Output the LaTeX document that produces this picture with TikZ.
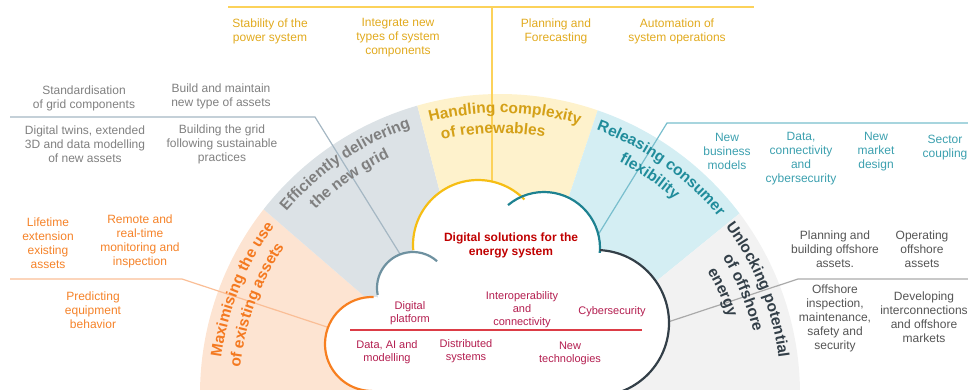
\documentclass[tikz,border=0pt]{standalone}
\usepackage{fontspec}
\setmainfont{Liberation Sans}
\usetikzlibrary{decorations.text,calc}
\definecolor{fOr}{RGB}{253,228,210}
\definecolor{fGr}{RGB}{220,226,230}
\definecolor{fYe}{RGB}{254,242,204}
\definecolor{fBl}{RGB}{212,238,243}
\definecolor{fLg}{RGB}{242,242,242}
\definecolor{hOr}{RGB}{244,121,32}
\definecolor{hGr}{RGB}{127,127,127}
\definecolor{hYe}{RGB}{212,160,23}
\definecolor{hBl}{RGB}{32,140,155}
\definecolor{hDk}{RGB}{51,63,72}
\definecolor{tOr}{RGB}{245,130,40}
\definecolor{tGr}{RGB}{128,128,128}
\definecolor{tYe}{RGB}{225,170,30}
\definecolor{tBl}{RGB}{60,160,175}
\definecolor{tDk}{RGB}{85,85,85}
\definecolor{lOr}{RGB}{250,190,150}
\definecolor{lGr}{RGB}{165,183,195}
\definecolor{lYe}{RGB}{252,210,90}
\definecolor{lBl}{RGB}{120,190,205}
\definecolor{lDk}{RGB}{170,170,170}
\definecolor{cOr}{RGB}{247,127,32}
\definecolor{cSl}{RGB}{110,145,160}
\definecolor{cYe}{RGB}{246,190,20}
\definecolor{cTe}{RGB}{30,130,145}
\definecolor{cDk}{RGB}{51,63,72}
\definecolor{inTx}{RGB}{180,30,80}
\definecolor{titTx}{RGB}{192,0,0}
\definecolor{redLn}{RGB}{220,60,70}
\newcommand\headf{\fontsize{15.5}{18}\selectfont\bfseries}
\newcommand\ArcLbl[4]{%
  \pgfmathsetmacro\aStart{#1+45}\pgfmathsetmacro\aEnd{#1-45}%
  \path[decorate,decoration={text along path,text align=center,text={|\headf\color{#3}|#4}}]
    ([shift={(C)}]\aStart:#2) arc[start angle=\aStart,end angle=\aEnd,radius=#2];}
\begin{document}
\begin{tikzpicture}[x=1pt,y=1pt,
  lbl/.style={align=center,inner sep=0pt,font=\fontsize{12}{14}\selectfont},
  inl/.style={align=center,inner sep=0pt,font=\fontsize{11}{13}\selectfont,text=inTx},
  conn/.style={line width=1.2pt},
  cl/.style={line width=2.2pt}]
\useasboundingbox (0,0) rectangle (968,389);
\clip (0,0) rectangle (968,389);
\coordinate (C) at (500,-5);
\coordinate (P) at (497,-22);
% sectors
\fill[fOr] (P) -- ([shift={(C)}]142:300) arc[start angle=142,end angle=185,radius=300] -- cycle;
\fill[fGr] (P) -- ([shift={(C)}]106:300) arc[start angle=106,end angle=142,radius=300] -- cycle;
\fill[fYe] (P) -- ([shift={(C)}]71:300) arc[start angle=71,end angle=106,radius=300] -- cycle;
\fill[fBl] (P) -- ([shift={(C)}]37:300) arc[start angle=37,end angle=71,radius=300] -- cycle;
\fill[fLg] (P) -- ([shift={(C)}]-5:300) arc[start angle=-5,end angle=37,radius=300] -- cycle;
% connectors
\coordinate (yL) at (228,382); \coordinate (yR) at (754,382);
\coordinate (yM) at (492,382); \coordinate (yE) at (492,207);
\coordinate (gL) at (10,272); \coordinate (gK) at (315,272); \coordinate (gE) at (400,135);
\coordinate (tR) at (968,266); \coordinate (tK) at (667,266); \coordinate (tE) at (598,154);
\coordinate (oL) at (10,110); \coordinate (oK) at (182,110); \coordinate (oE) at (327,62);
\coordinate (dR) at (968,110); \coordinate (dK) at (798,110); \coordinate (dE) at (668,67);
\draw[conn,lYe] (yL) -- (yR);
\draw[conn,lYe] (yM) -- (yE);
\draw[conn,lGr] (gL) -- (gK) -- (gE);
\draw[conn,lBl] (tR) -- (tK) -- (tE);
\draw[conn,lOr] (oL) -- (oK) -- (oE);
\draw[conn,lDk] (dR) -- (dK) -- (dE);
% heading arcs
\ArcLbl{158}{281}{hOr}{Maximising the use}
\ArcLbl{160}{261}{hOr}{of existing assets}
\ArcLbl{124}{281}{hGr}{Efficiently delivering}
\ArcLbl{125}{261}{hGr}{the new grid}
\ArcLbl{89}{281}{hYe}{Handling complexity}
\ArcLbl{91.5}{261}{hYe}{of renewables}
\ArcLbl{54.5}{281}{hBl}{Releasing consumer}
\ArcLbl{55.5}{261}{hBl}{flexibility}
\ArcLbl{22}{281}{hDk}{Unlocking potential}
\ArcLbl{22.6}{261}{hDk}{of offshore}
\ArcLbl{24.6}{241}{hDk}{energy}
% cloud
\coordinate (cO) at (372,45);
\coordinate (cS) at (413,101);
\coordinate (cY) at (478,144);
\coordinate (cT) at (544,141);
\coordinate (cD) at (596,66);
\fill[white] (cO) circle[radius=47] (cS) circle[radius=36] (cY) circle[radius=65]
  (cT) circle[radius=56] (cD) circle[radius=73];
\fill[white] (372,-5) -- (cO) -- (cS) -- (cY) -- (cT) -- (cD) -- (596,-5) -- cycle;
\draw[cl,cOr] ([shift={(cO)}]88:47) arc[start angle=88,end angle=270,radius=47];
\draw[cl,cSl] ([shift={(cS)}]191:36) arc[start angle=191,end angle=48,radius=36];
\draw[cl,cYe] ([shift={(cY)}]184.5:65) arc[start angle=184.5,end angle=44.4,radius=65];
\draw[cl,cTe] ([shift={(cT)}]130:56) arc[start angle=130,end angle=-5,radius=56];
\draw[cl,cDk] ([shift={(cD)}]86.9:73) arc[start angle=86.9,end angle=-90,radius=73];
% cloud texts
\node[align=center,inner sep=0pt,font=\fontsize{12}{14}\selectfont\bfseries,text=titTx] (title) at (511,144) {Digital solutions for the\\energy system};
\coordinate (rlL) at (350,59); \coordinate (rlR) at (642,59);
\draw[redLn,line width=1.2pt] (rlL) -- (rlR);
\node[inl] (dplat) at (410,76) {Digital\\platform};
\node[inl] (interop) at (522,79) {Interoperability\\and\\connectivity};
\node[inl] (cyber) at (612,77) {Cybersecurity};
\node[inl] (dataai) at (387,37) {Data, AI and\\modelling};
\node[inl] (distr) at (466,37.5) {Distributed\\systems};
\node[inl] (newtech) at (570,36) {New\\technologies};
% yellow labels
\node[lbl,text=tYe] (stab) at (270,358) {Stability of the\\power system};
\node[lbl,text=tYe] (integ) at (398,351) {Integrate new\\types of system\\components};
\node[lbl,text=tYe] (plan) at (556,358) {Planning and\\Forecasting};
\node[lbl,text=tYe] (auto) at (677,358) {Automation of\\system operations};
% grey labels
\node[lbl,text=tGr] (stand) at (84,291) {Standardisation\\of grid components};
\node[lbl,text=tGr] (buildm) at (221,293) {Build and maintain\\new type of assets};
\node[lbl,text=tGr] (twins) at (85,244.5) {Digital twins, extended\\3D and data modelling\\of new assets};
\node[lbl,text=tGr] (bgrid) at (222,244.5) {Building the grid\\following sustainable\\practices};
% teal labels
\node[lbl,text=tBl] (newbiz) at (727,237.5) {New\\business\\models};
\node[lbl,text=tBl] (datac) at (801,230.5) {Data,\\connectivity\\and\\cybersecurity};
\node[lbl,text=tBl] (market) at (876,237.5) {New\\market\\design};
\node[lbl,text=tBl] (sector) at (945,241) {Sector\\coupling};
% orange labels
\node[lbl,text=tOr] (life) at (48,146) {Lifetime\\extension\\existing\\assets};
\node[lbl,text=tOr] (remote) at (140,148) {Remote and\\real-time\\monitoring and\\inspection};
\node[lbl,text=tOr] (predict) at (93,79) {Predicting\\equipment\\behavior};
% dark labels
\node[lbl,text=tDk] (planb) at (835,140) {Planning and\\building offshore\\assets.};
\node[lbl,text=tDk] (oper) at (922,140) {Operating\\offshore\\assets};
\node[lbl,text=tDk] (offi) at (835,70.5) {Offshore\\inspection,\\maintenance,\\safety and\\security};
\node[lbl,text=tDk] (devel) at (924,71.5) {Developing\\interconnections\\and offshore\\markets};
\end{tikzpicture}
\end{document}
